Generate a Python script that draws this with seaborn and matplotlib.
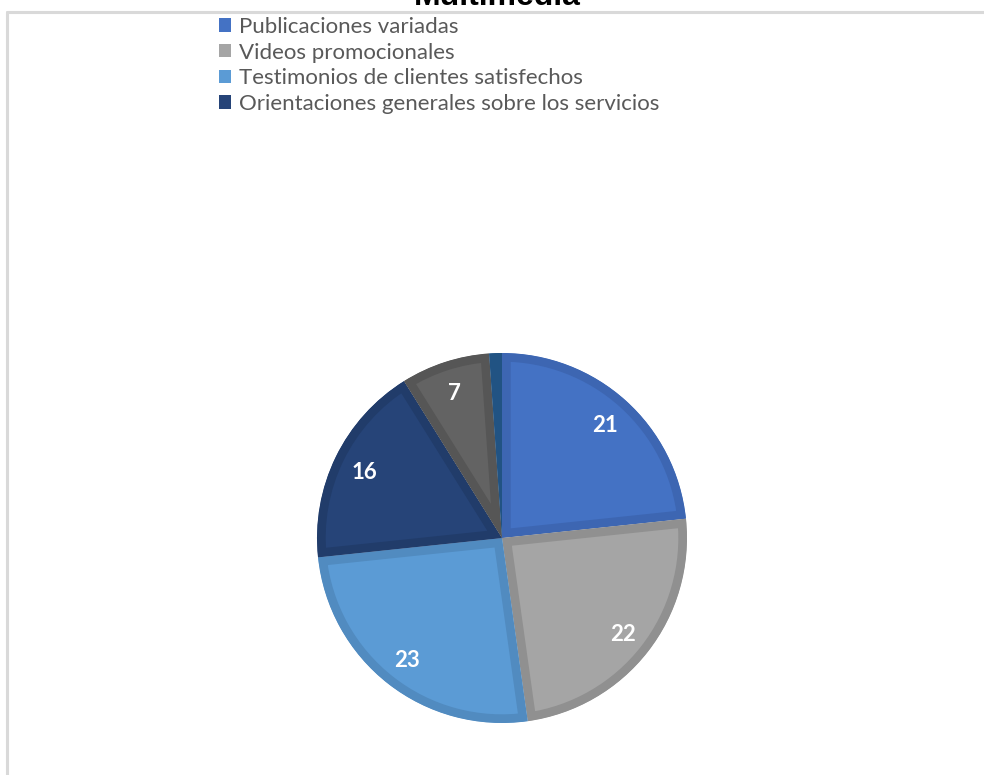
import matplotlib
matplotlib.use("Agg")
import matplotlib.pyplot as plt
from matplotlib.patches import Rectangle
from matplotlib.lines import Line2D
import seaborn as sns

# Data
categories = [
    "Publicaciones variadas",
    "Videos promocionales",
    "Testimonios de clientes satisfechos",
    "Orientaciones generales sobre los servicios",
]
values = [21, 22, 23, 16, 7, 1]
slice_labels = ["21", "22", "23", "16", "7", ""]
colors = ["#4472C4", "#A5A5A5", "#5B9BD5", "#264478", "#636363", "#255E91"]
edge_colors = ["#3D66B2", "#909090", "#518BC0", "#213C6A", "#565656", "#215383"]
title = "Multimedia"

sns.set_theme(style="white")
plt.rcParams["font.family"] = ["Lato", "DejaVu Sans"]

W, H = 984, 775
fig = plt.figure(figsize=(W / 100, H / 100), dpi=100)
fig.patch.set_facecolor("white")

# chart frame (left and top edges)
fig.add_artist(Line2D([7 / W, 7 / W], [0, 1 - 12 / H], transform=fig.transFigure,
                      color="#D9D9D9", lw=2.2))
fig.add_artist(Line2D([7 / W, 1], [1 - 12 / H, 1 - 12 / H], transform=fig.transFigure,
                      color="#D9D9D9", lw=2.2))

# pie axes: centre at (502, 538) px, radius 185 px
cx, cy, r = 502, H - 538, 185
half = 1.2 * r
ax = fig.add_axes([(cx - half) / W, (cy - half) / H, 2 * half / W, 2 * half / H])

wedges, texts = ax.pie(
    values,
    labels=slice_labels,
    colors=colors,
    startangle=90,
    counterclock=False,
    labeldistance=0.83,
    radius=1.0,
    wedgeprops=dict(linewidth=12.5, joinstyle="miter"),
    textprops=dict(color="white", fontsize=16, fontweight="bold"),
)
ax.set_xlim(-1.2, 1.2)
ax.set_ylim(-1.2, 1.2)
ax.set_aspect("equal")
ax.axis("off")

# each slice keeps its darker outline inside its own shape
for w, ec in zip(wedges, edge_colors):
    w.set_edgecolor(ec)
    w.set_clip_on(True)
    w.set_clip_path(w)
for t in texts:
    t.set_ha("center")
    t.set_va("center_baseline")

# title (partly above the frame)
fig.text(497 / W, 1 - 5 / H, title, ha="center", va="baseline",
         fontsize=23, fontweight="bold", family=["Liberation Sans", "DejaVu Sans"],
         color="black")

# legend
handles = [Rectangle((0, 0), 1, 1, facecolor=c, edgecolor="none") for c in colors[:4]]
fig.legend(handles, categories, loc="upper left",
           bbox_to_anchor=(219 / W, 1 - 17 / H), frameon=False,
           fontsize=16, labelcolor="#595959", handlelength=0.55, handleheight=0.55,
           handletextpad=0.36, labelspacing=0.25, borderpad=0, borderaxespad=0)

fig.savefig("out.png", dpi=100, facecolor="white")
